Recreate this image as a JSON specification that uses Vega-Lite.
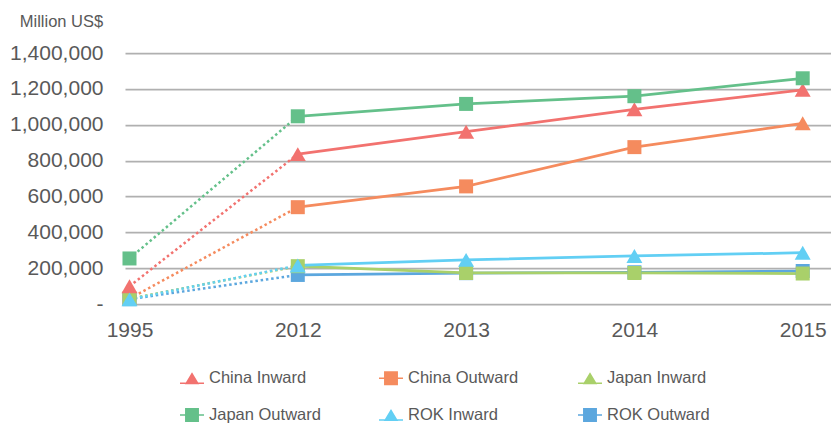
{
  "$schema": "https://vega.github.io/schema/vega-lite/v6.json",
  "width": 706,
  "height": 251,
  "autosize": {"type": "none"},
  "padding": {"left": 125, "top": 53, "right": 0, "bottom": 119},
  "background": "white",
  "config": {"view": {"stroke": null}, "font": "Liberation Sans"},
  "data": {
    "values": [
      {"series": "China Outward", "year": "1995", "value": 30000},
      {"series": "China Outward", "year": "2012", "value": 540000},
      {"series": "China Outward", "year": "2013", "value": 656000},
      {"series": "China Outward", "year": "2014", "value": 875000},
      {"series": "China Outward", "year": "2015", "value": 1008000},
      {"series": "ROK Outward", "year": "1995", "value": 27000},
      {"series": "ROK Outward", "year": "2012", "value": 162000},
      {"series": "ROK Outward", "year": "2013", "value": 172000},
      {"series": "ROK Outward", "year": "2014", "value": 177000},
      {"series": "ROK Outward", "year": "2015", "value": 184000},
      {"series": "Japan Inward", "year": "1995", "value": 30000},
      {"series": "Japan Inward", "year": "2012", "value": 211000},
      {"series": "Japan Inward", "year": "2013", "value": 173000},
      {"series": "Japan Inward", "year": "2014", "value": 173000},
      {"series": "Japan Inward", "year": "2015", "value": 170000},
      {"series": "China Inward", "year": "1995", "value": 99000},
      {"series": "China Inward", "year": "2012", "value": 836000},
      {"series": "China Inward", "year": "2013", "value": 961000},
      {"series": "China Inward", "year": "2014", "value": 1086000},
      {"series": "China Inward", "year": "2015", "value": 1194000},
      {"series": "Japan Outward", "year": "1995", "value": 254000},
      {"series": "Japan Outward", "year": "2012", "value": 1047000},
      {"series": "Japan Outward", "year": "2013", "value": 1116000},
      {"series": "Japan Outward", "year": "2014", "value": 1159000},
      {"series": "Japan Outward", "year": "2015", "value": 1259000},
      {"series": "ROK Inward", "year": "1995", "value": 26000},
      {"series": "ROK Inward", "year": "2012", "value": 215000},
      {"series": "ROK Inward", "year": "2013", "value": 246000},
      {"series": "ROK Inward", "year": "2014", "value": 268000},
      {"series": "ROK Inward", "year": "2015", "value": 286000}
    ]
  },
  "encoding": {
    "x": {
      "field": "year",
      "type": "ordinal",
      "sort": ["1995", "2012", "2013", "2014", "2015"],
      "scale": {"type": "point", "padding": 0.0974, "align": 0.137},
      "axis": {
        "title": null,
        "domain": false,
        "ticks": false,
        "grid": false,
        "labelAngle": 0,
        "labelFont": "Liberation Sans",
        "labelFontSize": 21,
        "labelColor": "#595959",
        "labelPadding": 15
      }
    },
    "y": {
      "field": "value",
      "type": "quantitative",
      "scale": {"domain": [0, 1400000], "nice": false},
      "axis": {
        "title": "Million US$",
        "titleAngle": 0,
        "titleAlign": "right",
        "titleBaseline": "alphabetic",
        "titleX": -22.3,
        "titleY": -26.3,
        "titleFont": "Liberation Sans",
        "titleFontSize": 16.5,
        "titleFontWeight": "normal",
        "titleColor": "#595959",
        "values": [0, 200000, 400000, 600000, 800000, 1000000, 1200000, 1400000],
        "labelExpr": "datum.value == 0 ? '-' : format(datum.value, ',')",
        "labelFont": "Liberation Sans",
        "labelFontSize": 21,
        "labelColor": "#595959",
        "labelPadding": 22,
        "domain": false,
        "ticks": false,
        "gridColor": "#b0b0b0",
        "gridWidth": 1.75
      }
    },
    "color": {
      "field": "series",
      "type": "nominal",
      "scale": {
        "domain": ["China Inward", "China Outward", "Japan Inward", "Japan Outward", "ROK Inward", "ROK Outward"],
        "range": ["#F2726F", "#F58B5E", "#A9D06A", "#64C08A", "#62CFF4", "#5CA7DE"]
      },
      "legend": {
        "title": null,
        "orient": "none",
        "legendX": 55,
        "legendY": 313,
        "direction": "horizontal",
        "columns": 3,
        "gridAlign": "all",
        "columnPadding": 58,
        "rowPadding": 16,
        "padding": 0,
        "symbolSize": 576,
        "labelFont": "Liberation Sans",
        "labelFontSize": 16.5,
        "labelColor": "#595959",
        "labelOffset": 5,
        "encode": {
          "symbols": {
            "update": {
              "shape": {"signal": "indexof(['China Inward','Japan Inward','ROK Inward'], datum.value) >= 0 ? 'M0,-0.5L0.6,0.5L-0.6,0.5Z M-1,0.36L1,0.36L1,0.48L-1,0.48Z' : 'M-0.58,-0.58L0.58,-0.58L0.58,0.58L-0.58,0.58Z M-1,-0.06L1,-0.06L1,0.06L-1,0.06Z'"},
              "fill": {"scale": "color", "field": "value"},
              "stroke": {"value": "transparent"},
              "strokeWidth": {"value": 0},
              "opacity": {"value": 1}
            }
          }
        }
      }
    }
  },
  "layer": [
    {
      "transform": [{"filter": "datum.year == '1995' || datum.year == '2012'"}],
      "mark": {"type": "line", "strokeDash": [2.5, 2.8], "strokeWidth": 2.5}
    },
    {
      "transform": [{"filter": "datum.year != '1995'"}],
      "mark": {"type": "line", "strokeWidth": 2.75}
    },
    {
      "mark": {"type": "point", "filled": true, "opacity": 1},
      "encoding": {
        "shape": {
          "condition": {"test": "datum.series == 'China Inward' || datum.series == 'ROK Inward' || (datum.series == 'China Outward' && datum.year == '2015')", "value": "triangle-up"},
          "value": "square"
        },
        "size": {
          "condition": {"test": "datum.series == 'China Inward' || datum.series == 'ROK Inward' || (datum.series == 'China Outward' && datum.year == '2015')", "value": 256},
          "value": 196
        }
      }
    }
  ]
}
